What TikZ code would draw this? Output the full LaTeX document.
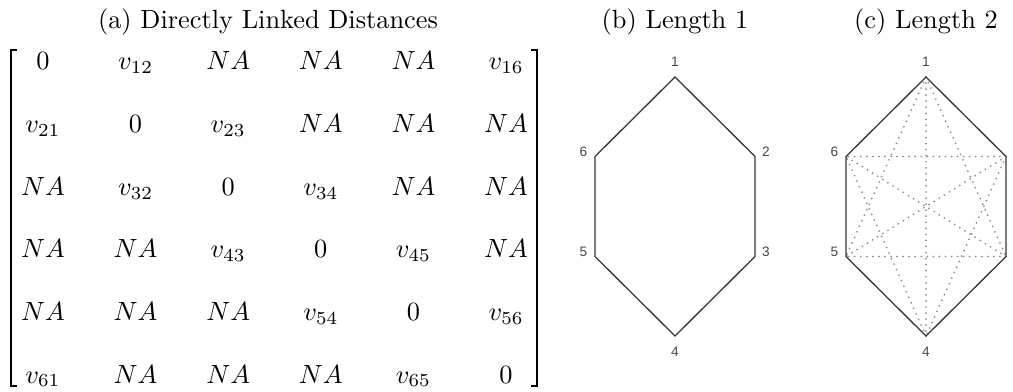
\documentclass[tikz,border=0pt]{standalone}
\usepackage{amsmath}
\usepackage{fontspec}
\newfontfamily\vertexfont{Liberation Sans}
\usetikzlibrary{matrix}
\definecolor{edgegray}{RGB}{55,55,55}
\definecolor{dotgray}{RGB}{140,140,140}
\definecolor{labelgray}{RGB}{70,70,70}

\begin{document}
\begin{tikzpicture}[
    x=0.38pt, y=-0.38pt,
    caption/.style={anchor=base, font=\normalsize},
    entry/.style={anchor=base, minimum width=35.2pt, text height=7pt, text depth=3pt, inner sep=0pt},
    bracket/.style={line width=0.9pt, line join=miter},
    vlabel/.style={font=\vertexfont\fontsize{5.2}{6}\selectfont, text=labelgray, inner sep=0pt},
    hexedge/.style={draw=edgegray, line width=0.5pt},
    hop/.style={draw=dotgray, line width=0.75pt, line cap=round, dash pattern=on 0pt off 2.3pt}
]
\useasboundingbox (0,0) rectangle (1013,391);

\node[caption] (capa) at (268,28) {(a) Directly Linked Distances};
\node[caption] (capb) at (675,28) {(b) Length 1};
\node[caption] (capc) at (926,28) {(c) Length 2};

\matrix (dist) [matrix of math nodes, nodes={entry}, column sep=0pt, row sep=13.8pt, inner sep=0pt] at (274.5,221.2) {
0 & v_{12} & NA & NA & NA & v_{16} \\
v_{21} & 0 & v_{23} & NA & NA & NA \\
NA & v_{32} & 0 & v_{34} & NA & NA \\
NA & NA & v_{43} & 0 & v_{45} & NA \\
NA & NA & NA & v_{54} & 0 & v_{56} \\
v_{61} & NA & NA & NA & v_{65} & 0 \\
};
\draw[bracket] (17,50) -- (11,50) -- (11,386) -- (17,386);
\draw[bracket] (531,50) -- (537,50) -- (537,386) -- (531,386);

\foreach \hx/\h in {675/b, 926/c} {
  \coordinate (\h1) at (\hx,77);
  \coordinate (\h2) at (\hx+80,156.5);
  \coordinate (\h3) at (\hx+80,256.5);
  \coordinate (\h4) at (\hx,336);
  \coordinate (\h5) at (\hx-80,256.5);
  \coordinate (\h6) at (\hx-80,156.5);
  \node[vlabel] (\h-l1) at (\hx,62) {1};
  \node[vlabel] (\h-l2) at (\hx+91,151.5) {2};
  \node[vlabel] (\h-l3) at (\hx+91,251.5) {3};
  \node[vlabel] (\h-l4) at (\hx,352) {4};
  \node[vlabel] (\h-l5) at (\hx-91.5,251.5) {5};
  \node[vlabel] (\h-l6) at (\hx-91.5,151.5) {6};
}

\foreach \u/\v in {1/3, 1/4, 1/5, 2/4, 2/5, 2/6, 3/5, 3/6, 4/6}
  \draw[hop] (c\u) -- (c\v);

\draw[hexedge] (b1) -- (b2) -- (b3) -- (b4) -- (b5) -- (b6) -- cycle;
\draw[hexedge] (c1) -- (c2) -- (c3) -- (c4) -- (c5) -- (c6) -- cycle;
\end{tikzpicture}
\end{document}
